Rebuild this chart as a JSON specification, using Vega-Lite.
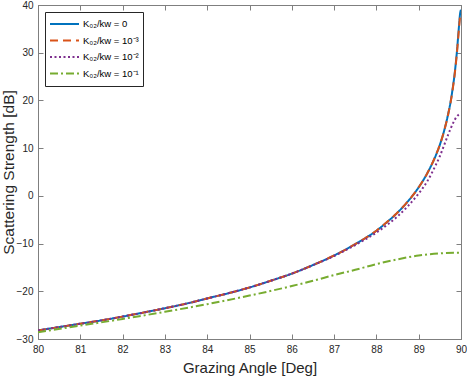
{
  "$schema": "https://vega.github.io/schema/vega-lite/v6.json",
  "width": 423,
  "height": 334,
  "autosize": "none",
  "padding": {"left": 38, "top": 5, "right": 6, "bottom": 37},
  "background": "white",
  "config": {
    "font": "Liberation Sans",
    "view": {"stroke": "#7f7f7f", "strokeWidth": 1},
    "axis": {
      "domainColor": "#7f7f7f",
      "tickColor": "#7f7f7f",
      "labelColor": "#262626",
      "titleColor": "#262626",
      "labelFont": "Liberation Sans",
      "titleFont": "Liberation Sans",
      "labelFontSize": 10,
      "titleFontSize": 15,
      "titleFontWeight": "normal",
      "grid": false,
      "tickSize": -5
    }
  },
  "data": {
    "values": [
      {"angle": 80, "strength": -28.2, "series": "K₀₂/kw = 0"},
      {"angle": 80.5, "strength": -27.5, "series": "K₀₂/kw = 0"},
      {"angle": 81, "strength": -26.8, "series": "K₀₂/kw = 0"},
      {"angle": 81.5, "strength": -26.1, "series": "K₀₂/kw = 0"},
      {"angle": 82, "strength": -25.3, "series": "K₀₂/kw = 0"},
      {"angle": 82.5, "strength": -24.45, "series": "K₀₂/kw = 0"},
      {"angle": 83, "strength": -23.55, "series": "K₀₂/kw = 0"},
      {"angle": 83.5, "strength": -22.6, "series": "K₀₂/kw = 0"},
      {"angle": 84, "strength": -21.5, "series": "K₀₂/kw = 0"},
      {"angle": 84.5, "strength": -20.4, "series": "K₀₂/kw = 0"},
      {"angle": 85, "strength": -19.2, "series": "K₀₂/kw = 0"},
      {"angle": 85.5, "strength": -17.8, "series": "K₀₂/kw = 0"},
      {"angle": 86, "strength": -16.3, "series": "K₀₂/kw = 0"},
      {"angle": 86.5, "strength": -14.5, "series": "K₀₂/kw = 0"},
      {"angle": 87, "strength": -12.5, "series": "K₀₂/kw = 0"},
      {"angle": 87.5, "strength": -10.1, "series": "K₀₂/kw = 0"},
      {"angle": 88, "strength": -7.3, "series": "K₀₂/kw = 0"},
      {"angle": 88.25, "strength": -5.5, "series": "K₀₂/kw = 0"},
      {"angle": 88.5, "strength": -3.5, "series": "K₀₂/kw = 0"},
      {"angle": 88.75, "strength": -1.1, "series": "K₀₂/kw = 0"},
      {"angle": 89, "strength": 1.8, "series": "K₀₂/kw = 0"},
      {"angle": 89.2, "strength": 4.7, "series": "K₀₂/kw = 0"},
      {"angle": 89.4, "strength": 8.4, "series": "K₀₂/kw = 0"},
      {"angle": 89.5, "strength": 10.7, "series": "K₀₂/kw = 0"},
      {"angle": 89.6, "strength": 13.6, "series": "K₀₂/kw = 0"},
      {"angle": 89.7, "strength": 17.3, "series": "K₀₂/kw = 0"},
      {"angle": 89.75, "strength": 19.5, "series": "K₀₂/kw = 0"},
      {"angle": 89.8, "strength": 22.3, "series": "K₀₂/kw = 0"},
      {"angle": 89.85, "strength": 25.6, "series": "K₀₂/kw = 0"},
      {"angle": 89.9, "strength": 29.9, "series": "K₀₂/kw = 0"},
      {"angle": 89.95, "strength": 35.3, "series": "K₀₂/kw = 0"},
      {"angle": 89.98, "strength": 38.3, "series": "K₀₂/kw = 0"},
      {"angle": 90, "strength": 39.0, "series": "K₀₂/kw = 0"},

      {"angle": 80, "strength": -28.2, "series": "K₀₂/kw = 10⁻³"},
      {"angle": 80.5, "strength": -27.5, "series": "K₀₂/kw = 10⁻³"},
      {"angle": 81, "strength": -26.8, "series": "K₀₂/kw = 10⁻³"},
      {"angle": 81.5, "strength": -26.1, "series": "K₀₂/kw = 10⁻³"},
      {"angle": 82, "strength": -25.3, "series": "K₀₂/kw = 10⁻³"},
      {"angle": 82.5, "strength": -24.45, "series": "K₀₂/kw = 10⁻³"},
      {"angle": 83, "strength": -23.55, "series": "K₀₂/kw = 10⁻³"},
      {"angle": 83.5, "strength": -22.6, "series": "K₀₂/kw = 10⁻³"},
      {"angle": 84, "strength": -21.5, "series": "K₀₂/kw = 10⁻³"},
      {"angle": 84.5, "strength": -20.4, "series": "K₀₂/kw = 10⁻³"},
      {"angle": 85, "strength": -19.2, "series": "K₀₂/kw = 10⁻³"},
      {"angle": 85.5, "strength": -17.8, "series": "K₀₂/kw = 10⁻³"},
      {"angle": 86, "strength": -16.3, "series": "K₀₂/kw = 10⁻³"},
      {"angle": 86.5, "strength": -14.5, "series": "K₀₂/kw = 10⁻³"},
      {"angle": 87, "strength": -12.5, "series": "K₀₂/kw = 10⁻³"},
      {"angle": 87.5, "strength": -10.1, "series": "K₀₂/kw = 10⁻³"},
      {"angle": 88, "strength": -7.3, "series": "K₀₂/kw = 10⁻³"},
      {"angle": 88.25, "strength": -5.5, "series": "K₀₂/kw = 10⁻³"},
      {"angle": 88.5, "strength": -3.5, "series": "K₀₂/kw = 10⁻³"},
      {"angle": 88.75, "strength": -1.1, "series": "K₀₂/kw = 10⁻³"},
      {"angle": 89, "strength": 1.8, "series": "K₀₂/kw = 10⁻³"},
      {"angle": 89.2, "strength": 4.7, "series": "K₀₂/kw = 10⁻³"},
      {"angle": 89.4, "strength": 8.4, "series": "K₀₂/kw = 10⁻³"},
      {"angle": 89.5, "strength": 10.7, "series": "K₀₂/kw = 10⁻³"},
      {"angle": 89.6, "strength": 13.6, "series": "K₀₂/kw = 10⁻³"},
      {"angle": 89.7, "strength": 17.2, "series": "K₀₂/kw = 10⁻³"},
      {"angle": 89.75, "strength": 19.4, "series": "K₀₂/kw = 10⁻³"},
      {"angle": 89.8, "strength": 22.1, "series": "K₀₂/kw = 10⁻³"},
      {"angle": 89.85, "strength": 25.4, "series": "K₀₂/kw = 10⁻³"},
      {"angle": 89.9, "strength": 29.6, "series": "K₀₂/kw = 10⁻³"},
      {"angle": 89.95, "strength": 34.8, "series": "K₀₂/kw = 10⁻³"},
      {"angle": 89.98, "strength": 37.7, "series": "K₀₂/kw = 10⁻³"},
      {"angle": 90, "strength": 38.4, "series": "K₀₂/kw = 10⁻³"},

      {"angle": 80, "strength": -28.2, "series": "K₀₂/kw = 10⁻²"},
      {"angle": 80.5, "strength": -27.5, "series": "K₀₂/kw = 10⁻²"},
      {"angle": 81, "strength": -26.8, "series": "K₀₂/kw = 10⁻²"},
      {"angle": 81.5, "strength": -26.1, "series": "K₀₂/kw = 10⁻²"},
      {"angle": 82, "strength": -25.3, "series": "K₀₂/kw = 10⁻²"},
      {"angle": 82.5, "strength": -24.45, "series": "K₀₂/kw = 10⁻²"},
      {"angle": 83, "strength": -23.55, "series": "K₀₂/kw = 10⁻²"},
      {"angle": 83.5, "strength": -22.6, "series": "K₀₂/kw = 10⁻²"},
      {"angle": 84, "strength": -21.5, "series": "K₀₂/kw = 10⁻²"},
      {"angle": 84.5, "strength": -20.4, "series": "K₀₂/kw = 10⁻²"},
      {"angle": 85, "strength": -19.2, "series": "K₀₂/kw = 10⁻²"},
      {"angle": 85.5, "strength": -17.8, "series": "K₀₂/kw = 10⁻²"},
      {"angle": 86, "strength": -16.3, "series": "K₀₂/kw = 10⁻²"},
      {"angle": 86.5, "strength": -14.55, "series": "K₀₂/kw = 10⁻²"},
      {"angle": 87, "strength": -12.6, "series": "K₀₂/kw = 10⁻²"},
      {"angle": 87.5, "strength": -10.3, "series": "K₀₂/kw = 10⁻²"},
      {"angle": 88, "strength": -7.7, "series": "K₀₂/kw = 10⁻²"},
      {"angle": 88.25, "strength": -6.1, "series": "K₀₂/kw = 10⁻²"},
      {"angle": 88.5, "strength": -4.3, "series": "K₀₂/kw = 10⁻²"},
      {"angle": 88.75, "strength": -2.1, "series": "K₀₂/kw = 10⁻²"},
      {"angle": 89, "strength": 0.5, "series": "K₀₂/kw = 10⁻²"},
      {"angle": 89.2, "strength": 3.0, "series": "K₀₂/kw = 10⁻²"},
      {"angle": 89.4, "strength": 6.4, "series": "K₀₂/kw = 10⁻²"},
      {"angle": 89.5, "strength": 8.3, "series": "K₀₂/kw = 10⁻²"},
      {"angle": 89.6, "strength": 10.6, "series": "K₀₂/kw = 10⁻²"},
      {"angle": 89.7, "strength": 12.9, "series": "K₀₂/kw = 10⁻²"},
      {"angle": 89.75, "strength": 14.0, "series": "K₀₂/kw = 10⁻²"},
      {"angle": 89.8, "strength": 15.0, "series": "K₀₂/kw = 10⁻²"},
      {"angle": 89.85, "strength": 15.9, "series": "K₀₂/kw = 10⁻²"},
      {"angle": 89.9, "strength": 16.6, "series": "K₀₂/kw = 10⁻²"},
      {"angle": 89.95, "strength": 17.05, "series": "K₀₂/kw = 10⁻²"},
      {"angle": 90, "strength": 17.2, "series": "K₀₂/kw = 10⁻²"},

      {"angle": 80, "strength": -28.6, "series": "K₀₂/kw = 10⁻¹"},
      {"angle": 81, "strength": -27.2, "series": "K₀₂/kw = 10⁻¹"},
      {"angle": 82, "strength": -25.8, "series": "K₀₂/kw = 10⁻¹"},
      {"angle": 83, "strength": -24.3, "series": "K₀₂/kw = 10⁻¹"},
      {"angle": 84, "strength": -22.7, "series": "K₀₂/kw = 10⁻¹"},
      {"angle": 85, "strength": -20.9, "series": "K₀₂/kw = 10⁻¹"},
      {"angle": 86, "strength": -18.9, "series": "K₀₂/kw = 10⁻¹"},
      {"angle": 86.5, "strength": -17.8, "series": "K₀₂/kw = 10⁻¹"},
      {"angle": 87, "strength": -16.6, "series": "K₀₂/kw = 10⁻¹"},
      {"angle": 87.5, "strength": -15.5, "series": "K₀₂/kw = 10⁻¹"},
      {"angle": 88, "strength": -14.3, "series": "K₀₂/kw = 10⁻¹"},
      {"angle": 88.5, "strength": -13.3, "series": "K₀₂/kw = 10⁻¹"},
      {"angle": 89, "strength": -12.5, "series": "K₀₂/kw = 10⁻¹"},
      {"angle": 89.5, "strength": -12.05, "series": "K₀₂/kw = 10⁻¹"},
      {"angle": 90, "strength": -11.9, "series": "K₀₂/kw = 10⁻¹"}
    ]
  },
  "layer": [
    {
      "mark": {"type": "line", "strokeWidth": 2, "interpolate": "monotone", "clip": true},
      "encoding": {
        "x": {
          "field": "angle", "type": "quantitative",
          "scale": {"domain": [80, 90], "nice": false, "zero": false},
          "axis": {"title": "Grazing Angle [Deg]", "values": [80,81,82,83,84,85,86,87,88,89,90], "labelPadding": 10, "titlePadding": 6, "labelFlush": false}
        },
        "y": {
          "field": "strength", "type": "quantitative",
          "scale": {"domain": [-30, 40], "nice": false, "zero": false},
          "axis": {"title": "Scattering Strength [dB]", "values": [-30,-20,-10,0,10,20,30,40], "labelPadding": 10, "titleX": -22, "titleFontSize": 15.5, "labelFlush": false}
        },
        "color": {
          "field": "series", "type": "nominal",
          "scale": {
            "domain": ["K₀₂/kw = 0", "K₀₂/kw = 10⁻³", "K₀₂/kw = 10⁻²", "K₀₂/kw = 10⁻¹"],
            "range": ["#0072BD", "#D95319", "#7E2F8E", "#77AC30"]
          },
          "legend": {
            "orient": "none", "legendX": 7, "legendY": 7, "title": null,
            "symbolType": "stroke", "symbolSize": 841, "symbolStrokeWidth": 2,
            "labelFontSize": 9.5, "labelFont": "Liberation Sans", "labelColor": "#000000",
            "strokeColor": "#262626", "fillColor": "white", "padding": 4,
            "clipHeight": 16, "rowPadding": 0.5, "labelOffset": 3
          }
        },
        "strokeDash": {
          "field": "series", "type": "nominal",
          "scale": {
            "domain": ["K₀₂/kw = 0", "K₀₂/kw = 10⁻³", "K₀₂/kw = 10⁻²", "K₀₂/kw = 10⁻¹"],
            "range": [[1, 0], [8, 5], [2, 2.5], [8, 3, 2, 3]]
          }
        }
      }
    },
    {
      "mark": {"type": "point", "opacity": 0},
      "encoding": {
        "x": {"field": "angle", "type": "quantitative", "axis": {"orient": "top", "labels": false, "title": null, "values": [80,81,82,83,84,85,86,87,88,89,90]}},
        "y": {"field": "strength", "type": "quantitative", "axis": {"orient": "right", "labels": false, "title": null, "values": [-30,-20,-10,0,10,20,30,40]}}
      }
    }
  ],
  "resolve": {"axis": {"x": "independent", "y": "independent"}}
}
